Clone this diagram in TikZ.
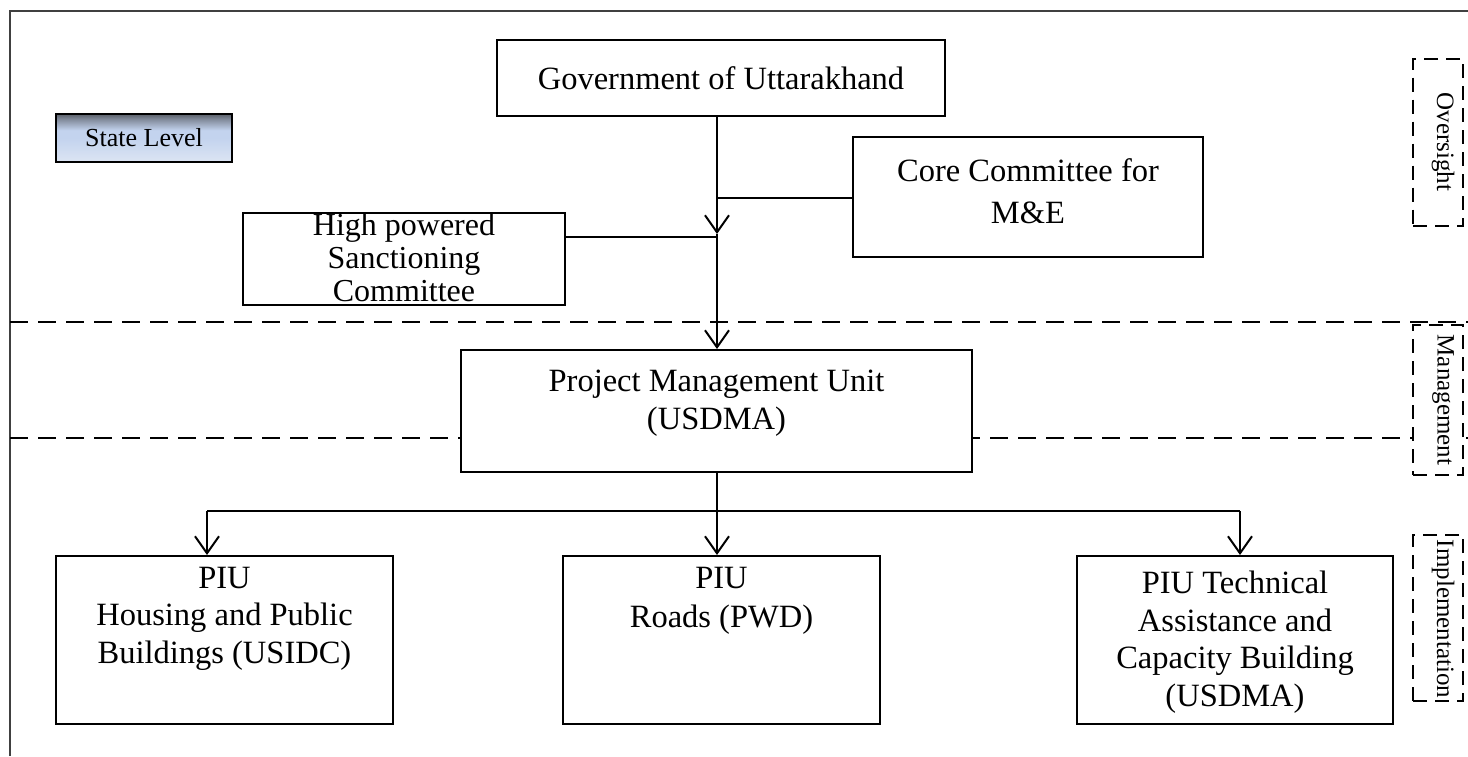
\documentclass[tikz,border=0pt]{standalone}
\usepackage{fontspec}
\setmainfont{Liberation Serif}
\usetikzlibrary{arrows.meta}
\definecolor{slA}{HTML}{DCE5F3}
\definecolor{slB}{HTML}{C3D3EE}
\definecolor{slC}{HTML}{7F8898}
\pgfdeclareverticalshading{stateshade}{100bp}{color(0bp)=(slA); color(25bp)=(slA); color(50bp)=(slB); color(58bp)=(slB); color(70bp)=(slC); color(82bp)=(black!85); color(100bp)=(black)}
\tikzset{
  box/.style={draw, fill=white, line width=2pt, rectangle, inner sep=0pt, align=center, font=\fontsize{32.5}{38}\selectfont},
  lbl/.style={inner sep=0pt, align=center, font=\fontsize{32.5}{38}\selectfont},
  side/.style={draw, fill=white, line width=2pt, dash pattern=on 14pt off 8pt, rectangle, inner sep=0pt, minimum width=50pt},
  sidetxt/.style={rotate=-90, inner sep=0pt, font=\fontsize{25}{28}\selectfont},
  sep/.style={line width=2pt, dash pattern=on 18pt off 10pt},
  conn/.style={line width=2pt},
  arr/.style={line width=2pt, -{Straight Barb[length=17pt,width=24pt,line width=2pt]}},
}
\begin{document}
\begin{tikzpicture}[x=1pt,y=-1pt]
\useasboundingbox (0,0) rectangle (1468,756);
% frame
\coordinate (fbl) at (10,756);
\coordinate (ftl) at (10,11);
\coordinate (ftr) at (1468,11);
\draw[line width=2.5pt, black!75] (fbl) -- (ftl) -- (ftr);
% separators
\coordinate (s1l) at (10,322); \coordinate (s1r) at (1468,322);
\coordinate (s2l) at (10,438); \coordinate (s2r) at (1468,438);
\draw[sep] (s1l) -- (s1r);
\draw[sep] (s2l) -- (s2r);
% boxes
\node[box, minimum width=448pt, minimum height=76pt] (gov) at (721,78) {Government of Uttarakhand};
\node[draw, line width=1.5pt, shading=stateshade, minimum width=176pt, minimum height=48pt, inner sep=0pt, font=\fontsize{26}{30}\selectfont] (state) at (144,138) {State Level};
\node[box, minimum width=350pt, minimum height=120pt] (core) at (1028,197) {};
\node[lbl, font=\fontsize{32.5}{42}\selectfont] (coret) at (1028,191) {Core Committee for\\M\&E};
\node[box, minimum width=322pt, minimum height=92pt] (high) at (404,259) {};
\node[lbl, font=\fontsize{32}{33}\selectfont] (hight) at (404,258) {High powered\\Sanctioning\\Committee};
\node[box, minimum width=511pt, minimum height=122pt] (pmu) at (716.5,411) {};
\node[lbl] (pmut) at (716.5,403) {Project Management Unit\\(USDMA)};
\node[box, minimum width=337pt, minimum height=168pt] (piu1) at (224.5,640) {};
\node[lbl, anchor=north, font=\fontsize{32.5}{37.5}\selectfont] (piu1t) at (224.5,567) {PIU\\Housing and Public\\Buildings (USIDC)};
\node[box, minimum width=317pt, minimum height=168pt] (piu2) at (721.5,640) {};
\node[lbl, anchor=north, font=\fontsize{32.5}{39}\selectfont] (piu2t) at (721.5,567) {PIU\\Roads (PWD)};
\node[box, minimum width=316pt, minimum height=168pt] (piu3) at (1235,640) {};
\node[lbl, anchor=north, font=\fontsize{32.5}{37.5}\selectfont] (piu3t) at (1235,571) {PIU Technical\\Assistance and\\Capacity Building\\(USDMA)};
% side labels
\node[side, minimum height=167pt] (ov) at (1438,142) {};
\node[sidetxt] (ovt) at (1443,142) {Oversight};
\node[side, minimum height=150pt] (mg) at (1438,400) {};
\node[sidetxt] (mgt) at (1443,400) {Management};
\node[side, minimum height=166pt] (im) at (1438,618) {};
\node[sidetxt] (imt) at (1443,619) {Implementation};
% connectors
\coordinate (trunk) at (717,0);
\coordinate (jc) at (717,198);
\coordinate (ja) at (717,234);
\coordinate (jh) at (717,237);
\draw[line width=2.6pt] (gov.south -| trunk) -- (jc);
\draw[arr, line width=2.6pt] (jc) -- (ja);
\draw[arr, line width=2.6pt] (ja) -- (pmu.north -| trunk);
\draw[conn] (core.west |- jc) -- (jc);
\draw[conn] (high.east |- jh) -- (jh);
\coordinate (bl) at (207,511);
\coordinate (bc) at (717,511);
\coordinate (br) at (1240,511);
\draw[conn] (bl) -- (br);
\draw[arr] (pmu.south -| trunk) -- (piu2.north -| trunk);
\draw[arr] (bl) -- (piu1.north -| bl);
\draw[arr] (br) -- (piu3.north -| br);
\end{tikzpicture}
\end{document}
